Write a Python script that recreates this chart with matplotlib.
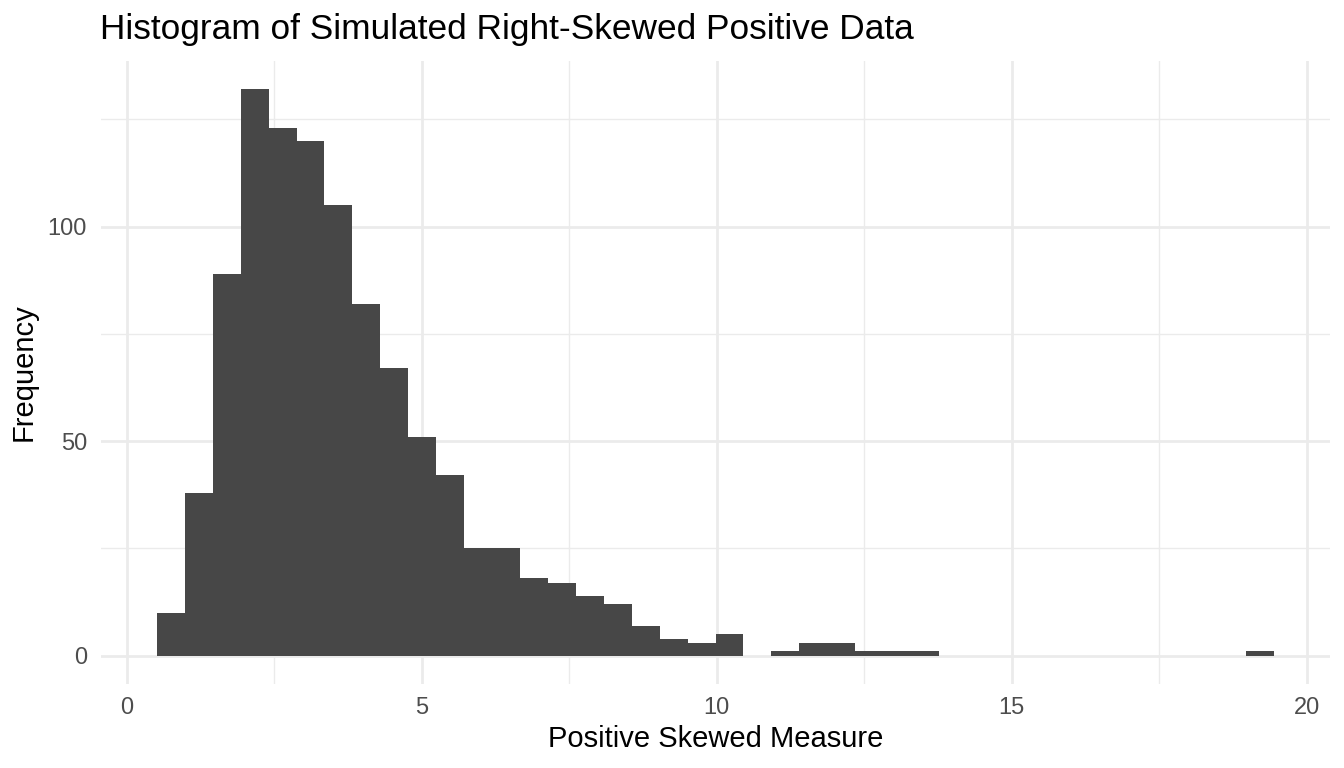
import numpy as np
import matplotlib
matplotlib.use("Agg")
import matplotlib.pyplot as plt

# histogram counts (40 bins)
bin_start = 0.514
bin_width = 0.4733
counts = [10, 38, 89, 132, 123, 120, 105, 82, 67, 51,
          42, 25, 25, 18, 17, 14, 12, 7, 4, 3,
          5, 0, 1, 3, 3, 1, 1, 1, 0, 0,
          0, 0, 0, 0, 0, 0, 0, 0, 0, 1]
x_ticks = [0, 5, 10, 15, 20]
y_ticks = [0, 50, 100]

plt.rcParams['font.family'] = ['Liberation Sans', 'DejaVu Sans']

edges = bin_start + bin_width * np.arange(len(counts) + 1)

fig = plt.figure(figsize=(13.44, 7.68), dpi=100)
ax = fig.add_axes([101 / 1344, 84 / 768, 1229 / 1344, 623 / 768])

ax.bar(edges[:-1], counts, width=bin_width, align='edge', color='#474747', linewidth=0, zorder=3)

xr = edges[-1] - edges[0]
ax.set_xlim(edges[0] - 0.05 * xr, edges[-1] + 0.05 * xr)
ymax = max(counts)
ax.set_ylim(-0.05 * ymax, ymax * 1.05)

ax.set_xticks(x_ticks)
ax.set_yticks(y_ticks)
ax.set_xticks([2.5, 7.5, 12.5, 17.5], minor=True)
ax.set_yticks([25, 75, 125], minor=True)
ax.grid(which='major', color='#EBEBEB', linewidth=2.0, zorder=0)
ax.grid(which='minor', color='#EBEBEB', linewidth=1.0, zorder=0)
ax.tick_params(which='both', length=0, labelsize=17, labelcolor='#4D4D4D')
ax.tick_params(axis='y', pad=10)
ax.tick_params(axis='x', pad=9)
for s in ax.spines.values():
    s.set_visible(False)

ax.set_xlabel("Positive Skewed Measure", fontsize=21, labelpad=5)
ax.set_ylabel("Frequency", fontsize=21, labelpad=7)
fig.text(100 / 1344, 0.961, "Histogram of Simulated Right-Skewed Positive Data",
         fontsize=25.4, va='center', ha='left')

fig.savefig("out.png", dpi=100)
